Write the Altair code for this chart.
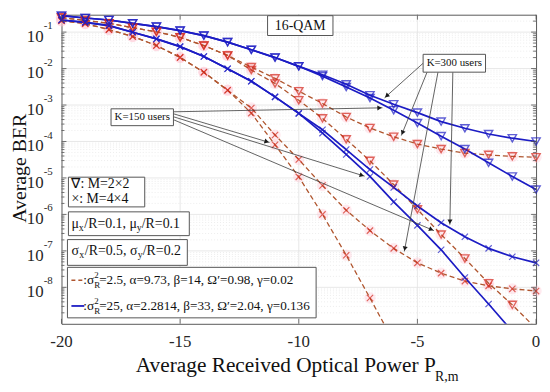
import math
import altair as alt
import pandas as pd

# ---------------- data ----------------
p_dbm = [-20, -19, -18, -17, -16, -15, -14, -13, -12, -11, -10,
         -9, -8, -7, -6, -5, -4, -3, -2, -1, 0]

# blue solid: sigma_R^2 = 25 ; red dashed: sigma_R^2 = 2.5
blue_tri_k300 = [0.282, 0.244, 0.215, 0.174, 0.141, 0.110, 0.080, 0.053, 0.0327, 0.020, 0.0115,
                 6.8e-3, 3.7e-3, 1.86e-3, 1.05e-3, 6.2e-4, 3.5e-4, 2.3e-4, 1.6e-4, 1.23e-4, 1.0e-4]
blue_tri_k150 = [0.282, 0.244, 0.215, 0.174, 0.141, 0.110, 0.080, 0.053, 0.0327, 0.020, 0.0115,
                 6.2e-3, 3.1e-3, 1.55e-3, 7.2e-4, 3.2e-4, 1.4e-4, 6.2e-5, 2.6e-5, 1.1e-5, 4.8e-6]
blue_x_k300 = [0.215, 0.185, 0.150, 0.099, 0.065, 0.040, 0.0215, 9.9e-3, 4.5e-3, 1.67e-3, 5.9e-4,
               2.1e-4, 6.0e-5, 1.7e-5, 5.5e-6, 1.7e-6, 5.9e-7, 2.45e-7, 1.17e-7, 6.9e-8, 4.7e-8]
blue_x_k150 = [0.215, 0.185, 0.150, 0.099, 0.065, 0.040, 0.0215, 9.9e-3, 4.5e-3, 1.67e-3, 5.9e-4,
               1.7e-4, 4.4e-5, 1.1e-5, 2.2e-6, 5.0e-7, 1.07e-7, 1.86e-8, 3.5e-9, 6.2e-10, 1.0e-10]
red_tri_k300 = [0.25, 0.209, 0.174, 0.132, 0.102, 0.072, 0.0427, 0.0229, 0.011, 5.4e-3, 2.4e-3,
                1.1e-3, 4.7e-4, 2.35e-4, 1.35e-4, 8.5e-5, 6.2e-5, 4.8e-5, 4.3e-5, 3.9e-5, 3.7e-5]
red_tri_k150 = [0.25, 0.209, 0.174, 0.132, 0.102, 0.072, 0.0427, 0.0229, 9.1e-3, 3.9e-3, 1.35e-3,
                4.3e-4, 1.15e-4, 2.95e-5, 6.6e-6, 1.38e-6, 2.8e-7, 6.2e-8, 1.3e-8, 3.3e-9, 7.4e-10]
red_x_k300 = [0.205, 0.171, 0.117, 0.0755, 0.0429, 0.0202, 7.9e-3, 2.55e-3, 8.3e-4, 1.5e-4, 3.2e-5,
              6.2e-6, 1.3e-6, 3.6e-7, 1.17e-7, 4.7e-8, 2.45e-8, 1.48e-8, 1.1e-8, 9.1e-9, 7.9e-9]
red_x_k150 = [0.205, 0.171, 0.117, 0.0755, 0.0429, 0.0202, 7.9e-3, 2.55e-3, 6.0e-4, 8.1e-5, 1.07e-5,
              1.0e-6, 7.6e-8, 5.1e-9, 3.2e-10]

series = [
    ("red", "tri", "300", red_tri_k300), ("red", "tri", "150", red_tri_k150),
    ("red", "x", "300", red_x_k300), ("red", "x", "150", red_x_k150),
    ("blue", "tri", "300", blue_tri_k300), ("blue", "tri", "150", blue_tri_k150),
    ("blue", "x", "300", blue_x_k300), ("blue", "x", "150", blue_x_k150),
]

x_tick_values = [-20, -15, -10, -5, 0]
x_tick_labels = ["-20", "-15", "-10", "-5", "0"]
y_decades = [1e-1, 1e-2, 1e-3, 1e-4, 1e-5, 1e-6, 1e-7, 1e-8]
y_exp_labels = ["-1", "-2", "-3", "-4", "-5", "-6", "-7", "-8"]
y_minor = [m * 10.0 ** e for e in range(-9, 0) for m in range(2, 10) if m * 10.0 ** e <= 0.3]

# ---------------- styling ----------------
FONT = "Liberation Serif"
W, H = 479, 312
BLUE = "#1c1cc4"
RED_LINE = "#b0562f"
RED_TRI = "#d42a1e"
RED_X = "#9b3b2a"
FAM = ["red", "blue"]
INK = "#111111"

rows = []
for fam, mk, k, vals in series:
    for p, b in zip(p_dbm, vals):
        rows.append(dict(p=p, ber=b, fam=fam, mk=mk, sid=f"{fam}-{mk}-{k}"))
df = pd.DataFrame(rows)

xscale = alt.Scale(domain=[-20, 0], nice=False)
yscale = alt.Scale(type="log", domain=[1e-9, 0.3], nice=False)

X = alt.X("p:Q", scale=xscale, axis=None)
Y = alt.Y("ber:Q", scale=yscale, axis=None)

# ---- grids ----
minor_grid = alt.Chart(pd.DataFrame({"v": y_minor})).mark_rule(
    color="#e8e8e8", strokeDash=[1, 2], strokeWidth=0.8
).encode(y=alt.Y("v:Q", scale=yscale, axis=None))
ymajor_grid = alt.Chart(pd.DataFrame({"v": y_decades})).mark_rule(
    color="#e2e2e2", strokeWidth=0.8
).encode(y=alt.Y("v:Q", scale=yscale, axis=None))
xmajor_grid = alt.Chart(pd.DataFrame({"v": x_tick_values[1:-1]})).mark_rule(
    color="#e2e2e2", strokeWidth=0.8
).encode(x=alt.X("v:Q", scale=xscale, axis=None))

base = alt.Chart(df)

red_lines = base.transform_filter(alt.datum.fam == "red").mark_line(
    clip=True, color=RED_LINE, strokeDash=[5, 3], strokeWidth=1.3
).encode(x=X, y=Y, detail="sid:N")

blue_lines = base.transform_filter(alt.datum.fam == "blue").mark_line(
    clip=True, color=BLUE, strokeWidth=1.7
).encode(x=X, y=Y, detail="sid:N")

visible = base.transform_filter(alt.datum.ber >= 1e-9)

halos = visible.transform_filter(alt.datum.fam == "red").mark_point(
    shape="circle", filled=True, size=130, opacity=0.35, color="#ffc2d2"
).encode(x=X, y=Y)

tri_marks = visible.transform_filter(alt.datum.mk == "tri").mark_point(
    shape="triangle-down", filled=False, size=70, strokeWidth=1.4
).encode(x=X, y=Y, color=alt.Color("fam:N", scale=alt.Scale(domain=FAM, range=[RED_TRI, BLUE]), legend=None))

XPATH = "M-1,-1L1,1M-1,1L1,-1"
x_marks = visible.transform_filter(alt.datum.mk == "x").mark_point(
    shape=XPATH, filled=False, size=40, strokeWidth=1.2
).encode(x=X, y=Y, color=alt.Color("fam:N", scale=alt.Scale(domain=FAM, range=[RED_X, BLUE]), legend=None))

# ---- inward ticks on all four sides ----
TICK = "#505050"
ymaj = pd.DataFrame({"v": y_decades})
ymin = pd.DataFrame({"v": y_minor})
ticks = []
for d, ln in ((ymaj, 5), (ymin, 3)):
    ticks.append(alt.Chart(d).mark_rule(color=TICK, strokeWidth=0.8).encode(
        y=alt.Y("v:Q", scale=yscale, axis=None), x=alt.value(0), x2=alt.value(ln)))
    ticks.append(alt.Chart(d).mark_rule(color=TICK, strokeWidth=0.8).encode(
        y=alt.Y("v:Q", scale=yscale, axis=None), x=alt.value(W - ln), x2=alt.value(W)))
xmaj = pd.DataFrame({"v": x_tick_values, "t": x_tick_labels})
ticks.append(alt.Chart(xmaj).mark_rule(color=TICK, strokeWidth=0.8).encode(
    x=alt.X("v:Q", scale=xscale, axis=None), y=alt.value(H - 5), y2=alt.value(H)))
ticks.append(alt.Chart(xmaj).mark_rule(color=TICK, strokeWidth=0.8).encode(
    x=alt.X("v:Q", scale=xscale, axis=None), y=alt.value(0), y2=alt.value(5)))

# ---- tick labels ----
xlab = alt.Chart(xmaj).mark_text(align="center", baseline="middle", font=FONT, fontSize=17,
                                 color="#262626").encode(
    x=alt.X("v:Q", scale=xscale, axis=None), y=alt.value(H + 18), text="t:N")
ylab = pd.DataFrame({"v": y_decades, "e": y_exp_labels})
ylab_base = alt.Chart(ylab).mark_text(align="right", baseline="middle", font=FONT, fontSize=17,
                                      dy=5, color="#262626").encode(
    y=alt.Y("v:Q", scale=yscale, axis=None), x=alt.value(-18), text=alt.value("10"))
ylab_exp = alt.Chart(ylab).mark_text(align="left", baseline="middle", font=FONT, fontSize=11,
                                     dy=-6, color="#262626").encode(
    y=alt.Y("v:Q", scale=yscale, axis=None), x=alt.value(-18), text="e:N")

ytitle = alt.Chart(pd.DataFrame({"t": ["Average BER"]})).mark_text(
    angle=270, align="center", baseline="middle", font=FONT, fontSize=20, color=INK
).encode(x=alt.value(-42), y=alt.value(155), text="t:N")

# ---- annotation boxes (pixel coords inside plot area) ----
boxes = pd.DataFrame({
    "x0": [208, 50, 365, 7, 7, 6, 6],
    "x1": [274, 113, 428, 84, 129, 127, 257],
    "y0": [1, 95, 40, 164, 199, 227, 255],
    "y1": [21, 112, 58, 194, 223, 253, 306],
})
box_layer = alt.Chart(boxes).mark_rect(fill="white", stroke="#555555", strokeWidth=1).encode(
    x=alt.X("x0:Q", scale=None), x2="x1:Q", y=alt.Y("y0:Q", scale=None), y2="y1:Q")

# ---- annotation arrows ----
arrows = pd.DataFrame({
    "x0": [113, 113, 113, 113, 365, 369, 380, 395],
    "y0": [98, 100, 103, 106, 49, 58, 58, 58],
    "x1": [324, 210, 306, 376, 326, 343, 346, 392],
    "y1": [94, 129, 163, 218, 84, 122, 239, 212],
})
heads = []
for r in arrows.itertuples():
    dx, dy = r.x1 - r.x0, r.y1 - r.y0
    L = math.hypot(dx, dy)
    heads.append(dict(hx=r.x1 - 3 * dx / L, hy=r.y1 - 3 * dy / L,
                      ang=math.degrees(math.atan2(dx, -dy)) % 360))
heads = pd.DataFrame(heads)
arrow_lines = alt.Chart(arrows).mark_rule(color="#3a3a3a", strokeWidth=0.8).encode(
    x=alt.X("x0:Q", scale=None), y=alt.Y("y0:Q", scale=None), x2="x1:Q", y2="y1:Q")
arrow_heads = alt.Chart(heads).mark_point(shape="triangle-up", filled=True, size=26,
                                          color="#1a1a1a", opacity=1).encode(
    x=alt.X("hx:Q", scale=None), y=alt.Y("hy:Q", scale=None), angle=alt.Angle("ang:Q", scale=None))

# legend line samples
samples = pd.DataFrame({"x0": [10, 10], "x1": [22, 23], "y0": [268, 294], "fam": ["red", "blue"]})
sample_red = alt.Chart(samples).transform_filter(alt.datum.fam == "red").mark_rule(
    color=RED_LINE, strokeDash=[4, 3], strokeWidth=1.5).encode(
    x=alt.X("x0:Q", scale=None), x2="x1:Q", y=alt.Y("y0:Q", scale=None))
sample_blue = alt.Chart(samples).transform_filter(alt.datum.fam == "blue").mark_rule(
    color=BLUE, strokeWidth=1.8).encode(
    x=alt.X("x0:Q", scale=None), x2="x1:Q", y=alt.Y("y0:Q", scale=None))

# ---- text pieces ----
left_txt = pd.DataFrame([
    (10, 171, "∇: M=2×2", 14),
    (10, 186, "×: M=4×4", 14),
    (10, 211, "μ", 14), (17.5, 215, "x", 10), (23, 211, "/R=0.1, μ", 14), (76, 215, "y", 10), (81, 211, "/R=0.1", 14),
    (10, 239, "σ", 14), (18, 243, "x", 10), (23.5, 239, "/R=0.5, σ", 14), (77, 243, "y", 10), (82, 239, "/R=0.2", 14),
    (22, 268, ":σ", 13.5), (33, 263, "2", 9), (33, 273, "R", 9), (38, 268, "=2.5, α=9.73, β=14, Ω′=0.98, γ=0.02", 13.3),
    (22, 294, ":σ", 13.5), (33, 289, "2", 9), (33, 299, "R", 9), (38, 294, "=25, α=2.2814, β=33, Ω′=2.04, γ=0.136", 13.3),
    (75, 355, "Average Received Optical Power P", 21.5), (377, 366, "R,m", 14),
], columns=["x", "y", "t", "fs"])
center_txt = pd.DataFrame([
    (241, 11, "16-QAM", 14),
    (81.5, 103.5, "K=150 users", 11),
    (396.5, 49, "K=300 users", 11),
], columns=["x", "y", "t", "fs"])

left_layer = alt.Chart(left_txt).mark_text(align="left", baseline="middle", font=FONT, color=INK).encode(
    x=alt.X("x:Q", scale=None), y=alt.Y("y:Q", scale=None), text="t:N", size=alt.Size("fs:Q", scale=None))
center_layer = alt.Chart(center_txt).mark_text(align="center", baseline="middle", font=FONT, color=INK).encode(
    x=alt.X("x:Q", scale=None), y=alt.Y("y:Q", scale=None), text="t:N", size=alt.Size("fs:Q", scale=None))

chart = alt.layer(
    minor_grid, ymajor_grid, xmajor_grid, halos, red_lines, blue_lines, tri_marks, x_marks, *ticks,
    xlab, ylab_base, ylab_exp, ytitle, arrow_lines, arrow_heads, box_layer,
    sample_red, sample_blue, left_layer, center_layer,
).properties(
    width=W, height=H,
    autosize=alt.AutoSizeParams(type="none"),
    padding={"left": 54, "top": 5, "right": 6, "bottom": 59},
    background="white",
).configure_view(stroke="#595959", strokeWidth=1)

chart.save("out.html", embed_options={"renderer": "svg", "actions": False})
